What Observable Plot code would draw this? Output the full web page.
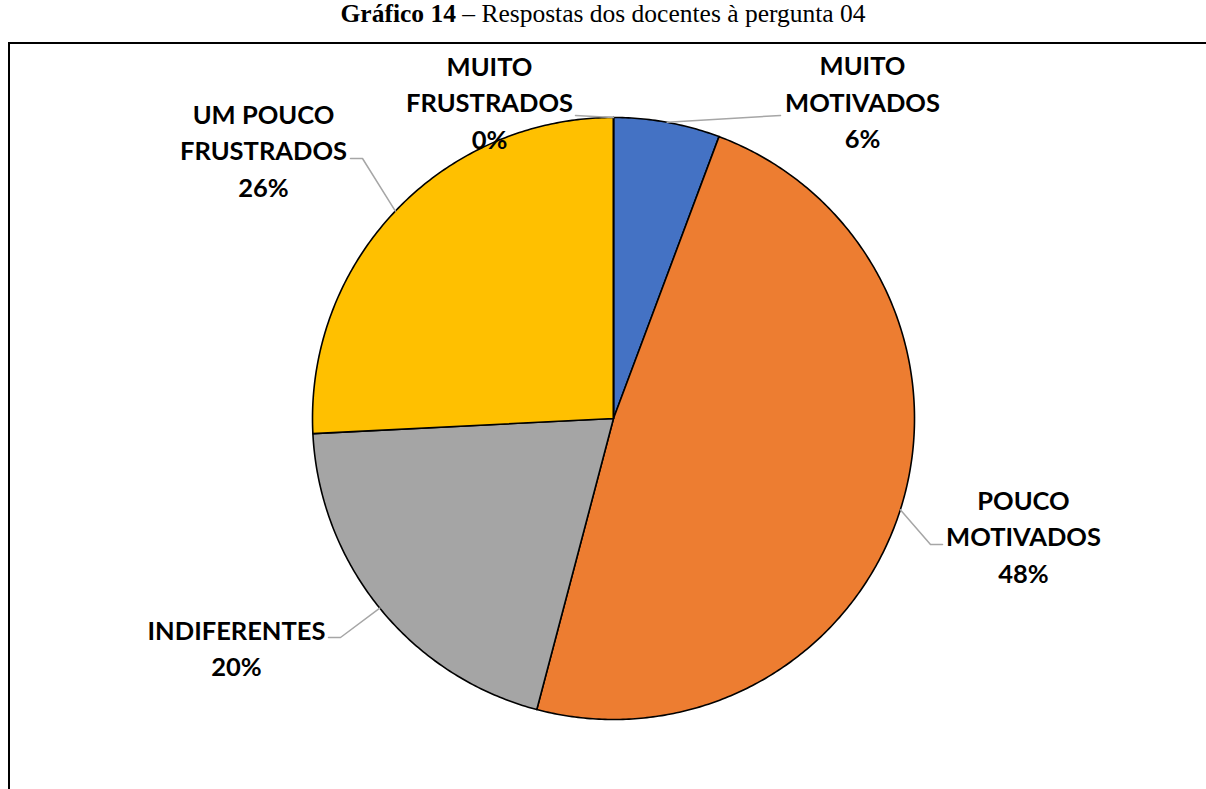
<!DOCTYPE html>
<html>
<head>
<meta charset="utf-8">
<script src="https://cdn.jsdelivr.net/npm/d3@7"></script>
<script src="https://cdn.jsdelivr.net/npm/@observablehq/plot@0.6"></script>
<style>
  html, body { margin: 0; padding: 0; background: #fff; }
  #wrap { position: relative; width: 1206px; height: 789px; overflow: hidden; }
  #title { position: absolute; left: 0; top: -1px; width: 1206px; text-align: center;
           font-family: "Liberation Serif", "Times New Roman", serif; font-size: 25.5px; color: #000; white-space: nowrap; }
  #frame { position: absolute; left: 8px; top: 42px; width: 1197px; height: 800px;
           border-top: 2px solid #000; border-left: 2px solid #000; }
  #chart { position: absolute; left: 0; top: 44px; }
</style>
</head>
<body>
<div id="wrap">
  <div id="title"><b>Gráfico 14</b> – Respostas dos docentes à pergunta 04</div>
  <div id="frame"></div>
  <div id="chart"></div>
</div>
<script>
// ---- data ----
const categories = ["MUITO MOTIVADOS", "POUCO MOTIVADOS", "INDIFERENTES", "UM POUCO FRUSTRADOS", "MUITO FRUSTRADOS"];
const values = [5.7, 48.4, 20.1, 25.8, 0];
const labelLines = [["MUITO", "MOTIVADOS"], ["POUCO", "MOTIVADOS"], ["INDIFERENTES"], ["UM POUCO", "FRUSTRADOS"], ["MUITO", "FRUSTRADOS"]];
const colors = ["#4472C4", "#ED7D31", "#A5A5A5", "#FFC000", "#5B9BD5"];

// ---- layout (label anchors & leader elbows, in radius units relative to pie centre) ----
const W = 1206, H = 745, CX = 613, CY = 374, R = 301;
const labelPos = [[249, 318.5], [410, -116], [-377, -228], [-350, 270], [-124, 318]].map(([a, b]) => [a / R, b / R]);
const leaderTail = [
  [[167, 303]],
  [[317, -126], [329, -126]],
  [[-273, -219], [-285, -219]],
  [[-251, 260], [-263, 260]],
  [[-38, 303]]
].map(pts => pts.map(([a, b]) => [a / R, b / R]));

const pie = d3.pie().sort(null).value(d => d.value).startAngle(0).endAngle(2 * Math.PI);
const rows = categories.map((c, i) => ({category: c, value: values[i], lines: labelLines[i], i}));
const arcs = pie(rows);

// slice polygons
const slicePts = [];
for (const a of arcs) {
  const n = Math.max(2, Math.ceil((a.endAngle - a.startAngle) / 0.01));
  slicePts.push({category: a.data.category, x: 0, y: 0});
  for (let k = 0; k <= n; k++) {
    const t = a.startAngle + (a.endAngle - a.startAngle) * k / n;
    slicePts.push({category: a.data.category, x: Math.sin(t), y: Math.cos(t)});
  }
}

// leader lines
const leaderPts = [];
for (const a of arcs) {
  const m = (a.startAngle + a.endAngle) / 2;
  const i = a.data.i;
  leaderPts.push({category: a.data.category, x: Math.sin(m), y: Math.cos(m)});
  for (const [lx, ly] of leaderTail[i]) leaderPts.push({category: a.data.category, x: lx, y: ly});
}

const labels = arcs.map(a => ({
  text: a.data.lines.join("\n") + "\n" + Math.round(a.data.value) + "%",
  x: labelPos[a.data.i][0],
  y: labelPos[a.data.i][1]
}));

const chart = Plot.plot({
  width: W, height: H,
  margin: 0,
  x: {domain: [-CX / R, (W - CX) / R], range: [0, W], axis: null},
  y: {domain: [-(H - CY) / R, CY / R], range: [H, 0], axis: null},
  color: {domain: categories, range: colors},
  marks: [
    Plot.line(slicePts, {x: "x", y: "y", z: "category", fill: "category", stroke: "#000", strokeWidth: 1.6, curve: "linear-closed", strokeLinejoin: "round"}),
    Plot.line(leaderPts, {x: "x", y: "y", z: "category", stroke: "#A6A6A6", strokeWidth: 1.5}),
    Plot.text(labels, {x: "x", y: "y", text: "text", fontSize: 25.5, fontWeight: "bold", fill: "#000", lineHeight: 1.43, lineAnchor: "middle", textAnchor: "middle"})
  ],
  style: {fontFamily: "Lato, 'Open Sans', sans-serif", background: "transparent", overflow: "visible"}
});
document.getElementById("chart").appendChild(chart);
</script>
</body>
</html>
